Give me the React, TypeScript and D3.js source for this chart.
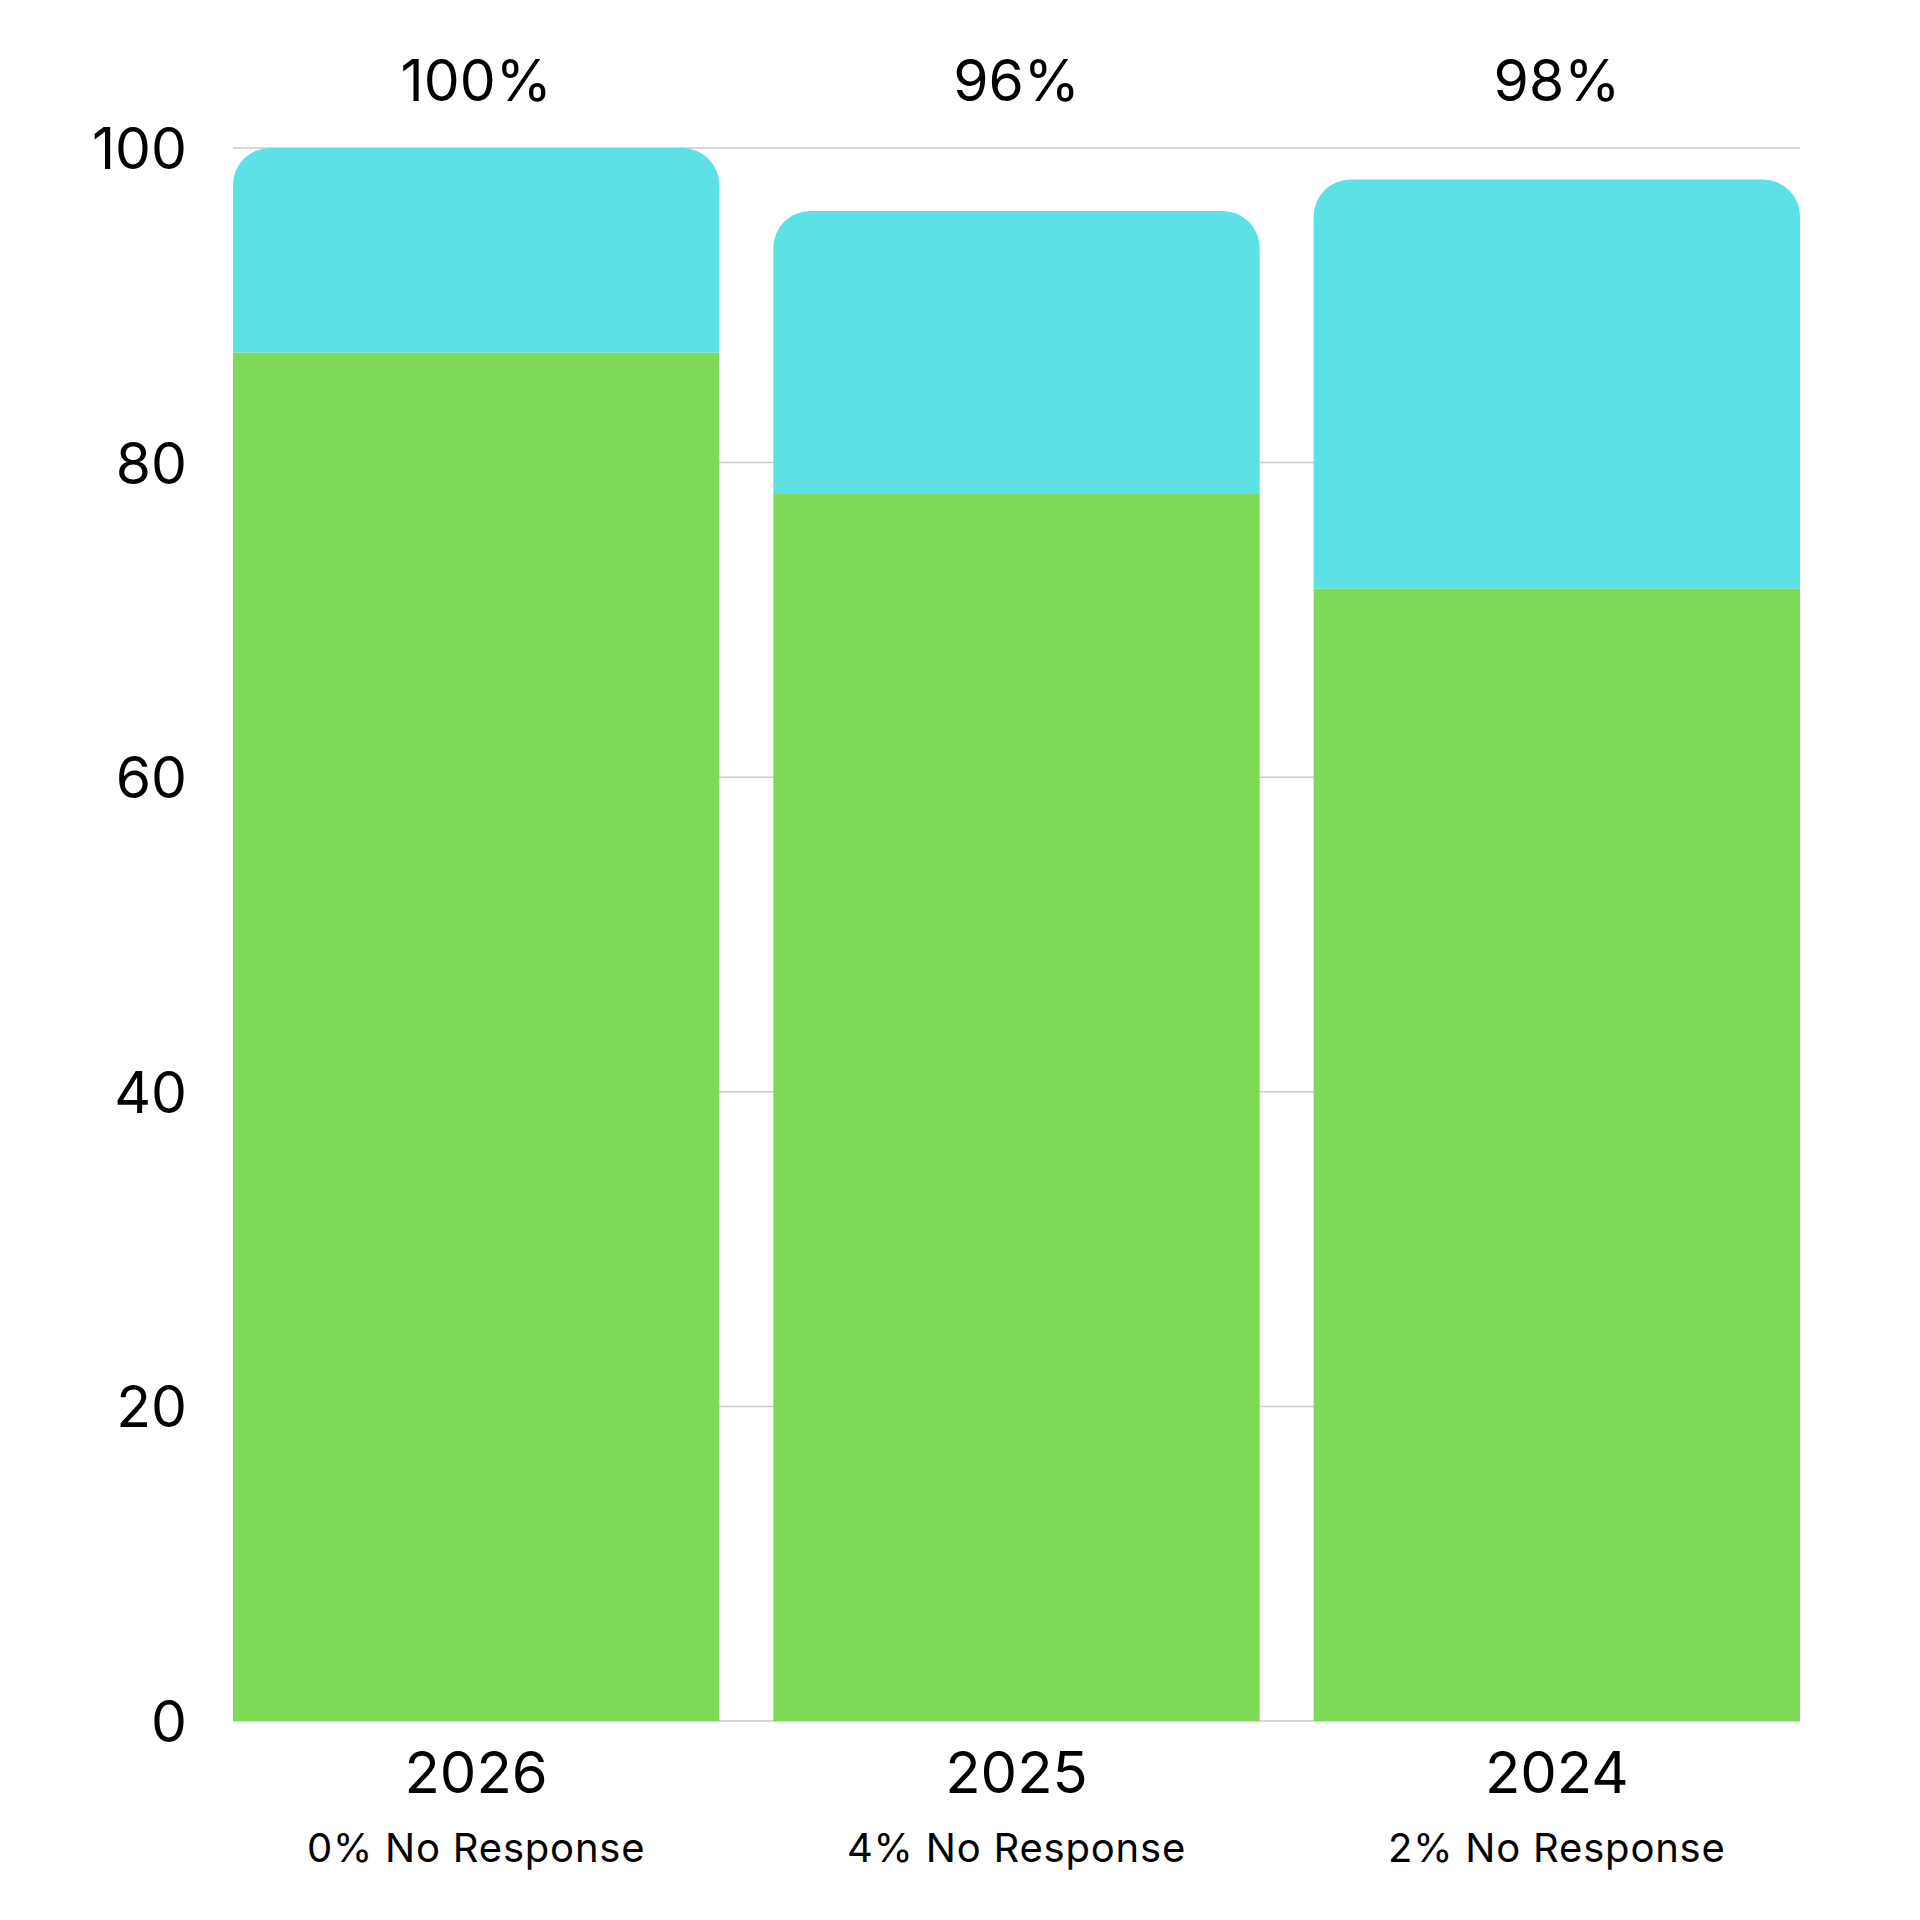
import { useCallback, useEffect, useRef } from 'react';
import { axisLeft, path, scaleBand, scaleLinear, select } from 'd3';

// survey years, left to right
const years = ['2026', '2025', '2024'];
// lower (green) segment of each stack
const greenValues = [87, 78, 72];
// upper (cyan) segment of each stack
const cyanValues = [13, 18, 26];
const noResponseLabels = ['0% No Response', '4% No Response', '2% No Response'];
const yTicks = [0, 20, 40, 60, 80, 100];

const GREEN = '#7ED957';
const CYAN = '#5CE1E6';
const FONT = 'Inter, "Open Sans", sans-serif';

// rect with only the top two corners rounded
function topRounded(x: number, y: number, w: number, h: number, r: number) {
  const p = path();
  const rr = Math.min(r, w / 2, h);
  p.moveTo(x, y + h);
  p.lineTo(x, y + rr);
  p.arcTo(x, y, x + rr, y, rr);
  p.lineTo(x + w - rr, y);
  p.arcTo(x + w, y, x + w, y + rr, rr);
  p.lineTo(x + w, y + h);
  p.closePath();
  return p.toString();
}

export default function App() {
  const containerRef = useRef<HTMLDivElement>(null);

  const initChart = useCallback(() => {
    const container = containerRef.current;
    if (!container) return;
    document.body.style.margin = '0';

    const div = select(container);
    div.select('svg').remove();

    const width = 1920,
      height = 1920;
    const margin = { top: 148, right: 120, bottom: 199, left: 233 };

    const svg = div
      .append('svg')
      .attr('width', width)
      .attr('height', height)
      .style('display', 'block')
      .style('background', '#ffffff');

    const x = scaleBand<string>()
      .domain(years)
      .range([margin.left, width - margin.right])
      .paddingInner(0.1)
      .paddingOuter(0);

    const y = scaleLinear()
      .domain([0, 100])
      .range([height - margin.bottom, margin.top]);

    // grid lines
    svg
      .append('g')
      .attr('class', 'grid')
      .selectAll('line')
      .data(yTicks)
      .join('line')
      .attr('x1', margin.left)
      .attr('x2', width - margin.right)
      .attr('y1', (d) => y(d))
      .attr('y2', (d) => y(d))
      .attr('stroke', '#cccccc')
      .attr('stroke-width', 1.5);

    // y axis labels
    const yAxis = svg
      .append('g')
      .attr('class', 'y-axis')
      .attr('transform', `translate(${margin.left},0)`)
      .call(axisLeft(y).tickValues(yTicks).tickSize(0).tickPadding(46));
    yAxis.select('.domain').remove();
    yAxis
      .selectAll('text')
      .attr('dy', '0.36em')
      .style('font-family', FONT)
      .style('font-size', '57px')
      .style('fill', '#000');

    const bars = svg
      .append('g')
      .attr('class', 'bars')
      .selectAll('g')
      .data(years)
      .join('g');

    // green segment
    bars
      .append('rect')
      .attr('x', (d) => Number(x(d)))
      .attr('width', x.bandwidth())
      .attr('y', (_, i) => y(greenValues[i]))
      .attr('height', (_, i) => y(0) - y(greenValues[i]))
      .attr('fill', GREEN);

    // cyan segment, rounded top
    bars
      .append('path')
      .attr('d', (d, i) => {
        const top = y(greenValues[i] + cyanValues[i]);
        return topRounded(Number(x(d)), top, x.bandwidth(), y(greenValues[i]) - top, 37);
      })
      .attr('fill', CYAN);

    const cx = (d: string) => Number(x(d)) + x.bandwidth() / 2;

    // totals above the plot
    svg
      .append('g')
      .selectAll('text')
      .data(years)
      .join('text')
      .attr('x', cx)
      .attr('y', 101)
      .attr('text-anchor', 'middle')
      .style('font-family', FONT)
      .style('font-size', '57px')
      .text((_, i) => `${greenValues[i] + cyanValues[i]}%`);

    // year labels
    svg
      .append('g')
      .selectAll('text')
      .data(years)
      .join('text')
      .attr('x', cx)
      .attr('y', 1793)
      .attr('text-anchor', 'middle')
      .style('font-family', FONT)
      .style('font-size', '58px')
      .text((d) => d);

    // no response notes
    svg
      .append('g')
      .selectAll('text')
      .data(years)
      .join('text')
      .attr('x', cx)
      .attr('y', 1862)
      .attr('text-anchor', 'middle')
      .style('font-family', FONT)
      .style('font-size', '40px')
      .style('letter-spacing', '0.8px')
      .text((_, i) => noResponseLabels[i]);
  }, []);

  const destroyChart = useCallback(() => {
    const container = containerRef.current;
    if (!container) return;
    select(container).select('svg').remove();
  }, []);

  useEffect(() => {
    initChart();
    return destroyChart;
  }, [destroyChart, initChart]);

  return <div ref={containerRef} />;
}
